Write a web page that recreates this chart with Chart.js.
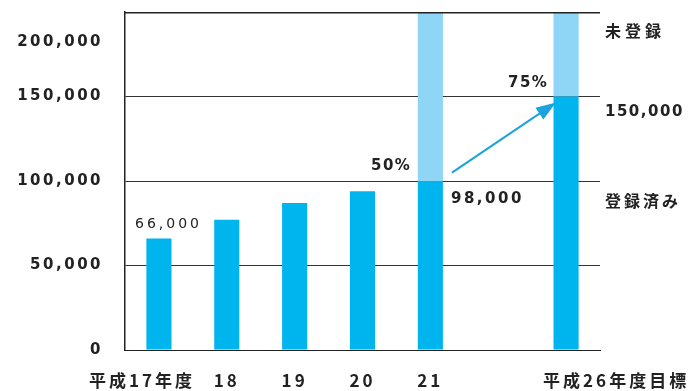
<!DOCTYPE html>
<html>
<head>
<meta charset="utf-8">
<script src="https://cdn.jsdelivr.net/npm/chart.js@4.4.0/dist/chart.umd.min.js"></script>
<style>
    html, body { margin: 0; padding: 0; background: #fff; }
    #wrap { width: 691px; height: 391px; }
</style>
</head>
<body>
<div id="wrap"><canvas id="chart" width="691" height="391"></canvas></div>
<script>
"use strict";

const years = ["平成17年度", "18", "19", "20", "21", "", "平成26年度目標"];
const registered = [66000, 77000, 87000, 94000, 100000, null, 150000];
const unregistered = [null, null, null, null, 100000, null, 50000];
const yTicks = [0, 50000, 100000, 150000, 200000];

const FONT = "'DejaVu Sans', 'Noto Sans CJK JP', sans-serif";
const JFONT = "'Noto Sans CJK JP', sans-serif";
const fmt = v => v.toLocaleString("en-US");
const yMax = yTicks[yTicks.length - 1];

// wider letters like the original print (set before every draw, canvas resize resets it)
const spacing = {
    id: "spacing",
    beforeLayout(chart) { chart.ctx.letterSpacing = "2.5px"; },
    beforeDraw(chart) { chart.ctx.letterSpacing = "2.5px"; }
};

// top frame line, drawn last so nothing covers it
const topLine = {
    id: "topLine",
    afterDraw(chart) {
        const ctx = chart.ctx;
        const area = chart.chartArea;
        ctx.save();
        ctx.fillStyle = "#222";
        ctx.fillRect(area.left, Math.round(area.top), area.right - area.left, 1.5);
        ctx.restore();
    }
};

// text and arrow drawn on top of the bars
const notes = {
    id: "notes",
    afterDatasetsDraw(chart) {
        const ctx = chart.ctx;
        const x = chart.scales.x;
        const y = chart.scales.y;
        ctx.save();
        ctx.fillStyle = "#222";
        ctx.textBaseline = "middle";

        // top tick label sits a bit under its line in the original
        ctx.font = "bold 15px " + FONT;
        ctx.letterSpacing = "2.5px";
        ctx.textAlign = "right";
        ctx.fillText(fmt(yMax), y.right - 22, y.getPixelForValue(yMax * 0.91));

        ctx.textAlign = "left";

        // category labels under the axis
        ctx.font = "bold 17px " + JFONT;
        ctx.letterSpacing = "3px";
        years.forEach((lab, i) => {
            if (!lab) return;
            let cx = x.getPixelForValue(i);
            let w = ctx.measureText(lab).width;
            let left = cx - w / 2;
            if (i === 0) left = cx - 70;
            if (i === years.length - 1) left = cx - 23;
            ctx.fillText(lab, left, 381);
        });

        ctx.font = "14px " + FONT;
        ctx.letterSpacing = "3px";
        ctx.fillText("66,000", 135, y.getPixelForValue(74500));

        ctx.font = "bold 15px " + FONT;
        ctx.letterSpacing = "2.5px";
        ctx.fillText("98,000", 451, y.getPixelForValue(89000));
        ctx.letterSpacing = "1.5px";
        ctx.fillText("50%", 371, y.getPixelForValue(109000));
        ctx.fillText("75%", 508, y.getPixelForValue(158000));
        ctx.fillText("150,000", 605, y.getPixelForValue(141000));

        // right side labels
        ctx.font = "bold 16px " + JFONT;
        ctx.letterSpacing = "4px";
        ctx.fillText("未登録", 605, y.getPixelForValue(189000));
        ctx.letterSpacing = "3px";
        ctx.fillText("登録済み", 605, y.getPixelForValue(88000));

        // arrow
        const x0 = 452, y0 = y.getPixelForValue(105000);
        const x1 = 556, y1 = y.getPixelForValue(146500);
        ctx.strokeStyle = "#1aa3dc";
        ctx.fillStyle = "#1aa3dc";
        ctx.lineWidth = 2;
        const ang = Math.atan2(y1 - y0, x1 - x0);
        ctx.beginPath();
        ctx.moveTo(x0, y0);
        ctx.lineTo(x1 - 12 * Math.cos(ang), y1 - 12 * Math.sin(ang));
        ctx.stroke();
        ctx.beginPath();
        ctx.moveTo(x1, y1);
        ctx.lineTo(x1 - 20 * Math.cos(ang) + 7 * Math.sin(ang), y1 - 20 * Math.sin(ang) - 7 * Math.cos(ang));
        ctx.lineTo(x1 - 20 * Math.cos(ang) - 7 * Math.sin(ang), y1 - 20 * Math.sin(ang) + 7 * Math.cos(ang));
        ctx.closePath();
        ctx.fill();
        ctx.restore();
    }
};

let ctx = document.getElementById("chart").getContext("2d");
let myChart = new Chart(ctx, {
    type: "bar",
    data: {
        labels: years,
        datasets: [{
            label: "登録済み",
            data: registered,
            backgroundColor: "#00b4ee",
            borderWidth: 0
        }, {
            label: "未登録",
            data: unregistered,
            backgroundColor: "#8fd6f6",
            borderWidth: 0
        }]
    },
    options: {
        responsive: false,
        animation: false,
        layout: { padding: { top: 12, right: 91, left: 0, bottom: 0 } },
        plugins: {
            legend: { display: false },
            tooltip: { enabled: false }
        },
        datasets: {
            bar: { categoryPercentage: 1, barPercentage: 0.37 }
        },
        scales: {
            x: {
                stacked: true,
                afterFit(scale) { scale.height = 41; },
                grid: { display: false, drawTicks: false },
                border: { display: true, color: "#222", width: 1 },
                ticks: { display: false }
            },
            y: {
                stacked: true,
                min: 0,
                max: yMax,
                afterFit(scale) {
                    scale.width = 125;
                    scale.paddingTop = 0;
                    scale.paddingBottom = 0;
                },
                afterBuildTicks(scale) { scale.ticks = yTicks.map(v => ({ value: v })); },
                grid: {
                    color: ctx => ctx.tick && ctx.tick.value === 0 ? "rgba(0,0,0,0)" : "#333",
                    lineWidth: 1,
                    drawTicks: false
                },
                border: { display: true, color: "#222", width: 1.5 },
                ticks: {
                    color: "#222",
                    font: { family: FONT, size: 15, weight: "bold" },
                    padding: 22,
                    callback: v => v === yMax ? " " : fmt(v)
                }
            }
        }
    },
    plugins: [spacing, notes, topLine]
});
</script>
</body>
</html>
